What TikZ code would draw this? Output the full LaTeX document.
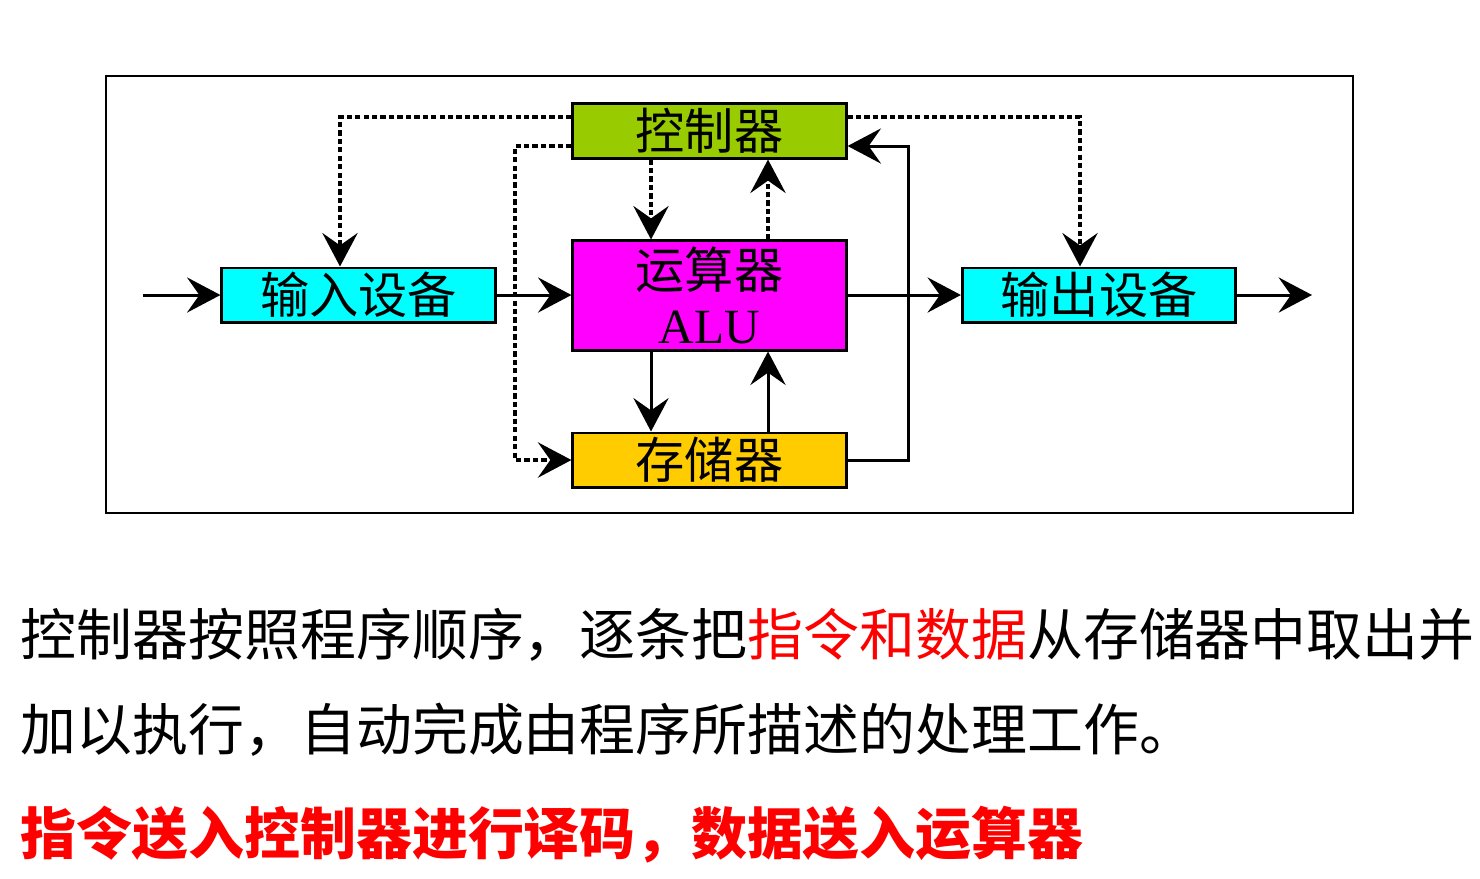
\documentclass[tikz,border=0pt]{standalone}
\usepackage{fontspec}
\setmainfont{Liberation Serif}
\newfontfamily\cjk{Noto Sans CJK SC}
\usetikzlibrary{arrows.meta,positioning}
\definecolor{ctrlgreen}{RGB}{153,204,0}
\definecolor{alumagenta}{RGB}{255,0,255}
\definecolor{memgold}{RGB}{255,204,0}
\definecolor{iocyan}{RGB}{0,255,255}

\begin{document}
\begin{tikzpicture}[x=0.01cm,y=-0.01cm,>={Stealth[length=9.5pt,width=10pt,inset=3.5pt]},
 unit/.style={draw,line width=0.85pt,inner sep=0pt,minimum width=2.73cm,minimum height=0.54cm,
  font=\fontsize{14}{15.6}\selectfont},
 flow/.style={->,line width=0.85pt},
 ctrlflow/.style={->,line width=1.25pt,dash pattern=on 1.5pt off 0.9pt},
 note/.style={anchor=west,inner sep=0pt,font=\fontsize{15.9}{18}\selectfont\cjk}]
\useasboundingbox (0,0) rectangle (1480,878);
\draw[line width=0.6pt] (106,76) rectangle (1353,513);
% units
\node[unit,fill=ctrlgreen] (ctrl) at (709.5,131) {\cjk 控制器};
\node[unit,fill=alumagenta,minimum height=1.09cm,align=center] (alu) at (709.5,295.5)
 {{\cjk 运算器}\\ALU};
\node[unit,fill=memgold] (mem) at (709.5,460) {\cjk 存储器};
\node[unit,fill=iocyan] (in) at (358.5,295) {\cjk 输入设备};
\node[unit,fill=iocyan] (out) at (1099,295) {\cjk 输出设备};
% bends
\coordinate (src) at (143,295);
\coordinate (dst) at (1312,295);
\coordinate (fb) at (908,146);
\coordinate (cin) at (340,117);
\coordinate (cmem) at (515,146);
\coordinate (cout) at (1080,117);
\coordinate (lcol) at (651,0);
\coordinate (rcol) at (768,0);
% data
\draw[flow] (src) -- (in);
\draw[flow] (in) -- (alu.west |- in.east);
\draw[flow] (alu.east |- out.west) -- (out);
\draw[flow] (out) -- (dst);
\draw[flow] (alu.south -| lcol) -- (mem.north -| lcol);
\draw[flow] (mem.north -| rcol) -- (alu.south -| rcol);
\draw[flow] (mem.east) -| (fb) -- (ctrl.east |- fb);
% control
\draw[ctrlflow] (ctrl.west |- cin) -| (cin |- in.north);
\draw[ctrlflow] (ctrl.west |- cmem) -| (cmem |- mem.west) -- (mem.west);
\draw[ctrlflow] (ctrl.east |- cout) -| (cout |- out.north);
\draw[ctrlflow] (ctrl.south -| lcol) -- (alu.north -| lcol);
\draw[ctrlflow] (alu.north -| rcol) -- (ctrl.south -| rcol);
% text
\node[note] (line1) at (20,635) {控制器按照程序顺序，逐条把\textcolor{red}{指令和数据}从存储器中取出并};
\node[note] (line2) at (20,730) {加以执行，自动完成由程序所描述的处理工作。};
\node[note,text=red,font=\fontsize{15.9}{18}\selectfont\cjk\bfseries] (line3) at (20,835)
 {指令送入控制器进行译码，数据送入运算器};
\end{tikzpicture}
\end{document}
